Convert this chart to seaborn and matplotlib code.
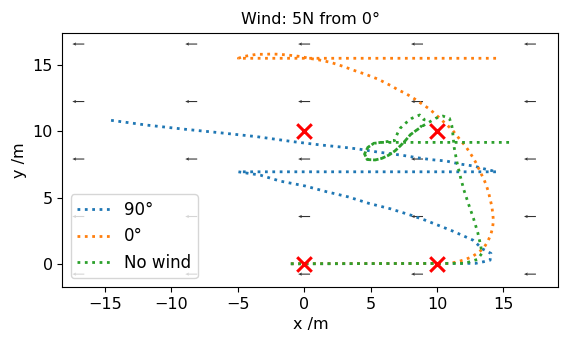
import numpy as np
import matplotlib
matplotlib.use("Agg")
import matplotlib.pyplot as plt
import seaborn as sns

# Traiettorie
blue_x = [-1, 12.9, 13.5, 14.0, 14.06, 13.45, 12.7, 11.2, 10.2, 9.1, 8.1, 6.5, 4.9, 3.3, 1.7, 0.1,
          -1.8, -3.3, -4.95, 14.5, 13.95, 13.4, 12.8, 11.75, 10.7, 9.6, 8.5, 7.4, 5.5, 4.1, 3.0,
          1.3, -0.8, -3.56, -6.4, -9.1, -11.85, -14.7]
blue_y = [0.05, 0.08, 0.2, 0.32, 0.83, 1.15, 1.83, 2.5, 2.9, 3.33, 3.68, 4.18, 4.58, 5.08, 5.46, 5.89,
          6.26, 6.71, 6.96, 6.96, 7.09, 7.22, 7.39, 7.54, 7.77, 7.87, 8.02, 8.2, 8.45, 8.67, 8.8,
          8.97, 9.22, 9.6, 9.9, 10.17, 10.47, 10.85]

orange_x = [-1, 11.0, 11.62, 12.12, 12.63, 13.08, 13.5, 13.8, 14.03, 14.18, 14.25, 14.2, 14.13, 14.0,
            13.88, 13.7, 13.5, 13.25, 13.03, 12.75, 12.45, 12.15, 11.8, 11.45, 11.12, 10.69, 10.29,
            9.86, 9.44, 8.98, 8.53, 8.06, 7.58, 7.1, 6.6, 6.1, 5.6, 5.1, 4.6, 4.04, 3.54, 3.0, 2.46,
            1.96, 1.41, 0.9, 0.33, -0.17, -0.75, -1.3, -1.85, -2.43, -2.98, -3.56, -4.07, -4.62,
            -4.95, 14.6]
orange_y = [0.05, 0.08, 0.22, 0.37, 0.57, 0.87, 1.2, 1.68, 2.18, 2.7, 3.28, 3.83, 4.38, 4.91,
            5.44, 5.99, 6.47, 6.96, 7.47, 7.97, 8.44, 8.89, 9.29, 9.74, 10.15, 10.53, 10.92,
            11.3, 11.68, 11.98, 12.3, 12.6, 12.88, 13.1, 13.4, 13.65, 13.91, 14.1, 14.3, 14.48, 14.66,
            14.86, 15.04, 15.19, 15.31, 15.41, 15.49, 15.61, 15.68, 15.74, 15.79, 15.81, 15.79, 15.79,
            15.71, 15.61, 15.49, 15.49]

green_x = [-1, 12.0, 12.5, 13.05, 13.38, 13.3, 13.07, 12.75, 12.38, 12.03, 11.75, 11.5, 11.3, 11.2,
           11.12, 10.94, 10.44, 9.9, 9.4, 8.95, 8.48, 8.0, 7.6, 7.23, 6.85, 6.35, 5.85, 5.35, 4.75,
           4.55, 4.8, 5.25, 6.0, 6.8, 7.03, 7.23, 7.68, 8.11, 8.7, 9.04, 8.9, 8.48, 8.0, 7.6, 7.23,
           6.85, 6.35, 5.85, 5.35, 4.75, 4.55, 4.8, 5.25, 5.85, 15.77]
green_y = [0.05, 0.08, 0.2, 0.38, 0.83, 1.38, 2.4, 3.46, 4.53, 5.59, 6.64, 7.71, 8.77, 9.77,
           10.42, 10.98, 11.15, 10.98, 10.68, 10.42, 10.1, 9.75, 9.28, 8.9, 8.54, 8.2, 7.97, 7.85, 7.88,
           8.3, 8.8, 9.1, 9.2, 9.3, 9.85, 10.23, 10.65, 10.98, 11.23, 10.9, 10.45, 10.1, 9.75, 9.28, 8.9,
           8.54, 8.2, 7.97, 7.85, 7.88, 8.3, 8.8, 9.1, 9.17, 9.17]

labels = ["90°", "0°", "No wind"]

# Waypoint
wp_x = [0, 10, 0, 10]
wp_y = [0, 0, 10, 10]

# Griglia del vento (5N da 0°)
wind_x = [-17.0, -8.5, 0.0, 8.5, 17.0]
wind_y = [-0.73, 3.6, 7.92, 12.24, 16.56]
wind_u = -5.0
wind_v = 0.0

sns.set_style("ticks", {"axes.edgecolor": "black", "text.color": "black",
                        "xtick.color": "black", "ytick.color": "black",
                        "axes.labelcolor": "black"})
plt.rcParams["font.family"] = ["DejaVu Sans"]
plt.rcParams["font.size"] = 11.5

fig, ax = plt.subplots(figsize=(5.67, 3.41), dpi=100)
fig.subplots_adjust(left=0.11, right=0.985, top=0.904, bottom=0.159)

WX, WY = np.meshgrid(wind_x, wind_y)
ax.quiver(WX, WY, np.full(WX.shape, wind_u), np.full(WX.shape, wind_v),
          pivot="middle", scale_units="xy", scale=5 / 0.9, width=0.0022,
          headwidth=3, headlength=3.5, headaxislength=3, color="k", alpha=0.8, zorder=1)

for xs, ys, lab, col in zip([blue_x, orange_x, green_x], [blue_y, orange_y, green_y], labels,
                            ["tab:blue", "tab:orange", "tab:green"]):
    sns.lineplot(x=xs, y=ys, sort=False, estimator=None, ax=ax, color=col,
                 linestyle=":", linewidth=2, label=lab, zorder=2)

sns.scatterplot(x=wp_x, y=wp_y, marker="x", s=110, color="red", linewidth=2.2, ax=ax, zorder=5)

ax.set_xlim(-18.2, 19.15)
ax.set_ylim(-1.68, 17.41)
ax.set_xticks([-15, -10, -5, 0, 5, 10, 15])
ax.set_yticks([0, 5, 10, 15])
ax.tick_params(labelsize=11.5, length=3.5, width=0.8)
ax.set_xlabel("x /m", fontsize=11.5)
ax.set_ylabel("y /m", fontsize=11.5)
ax.set_title("Wind: 5N from 0°", fontsize=11.5)
ax.legend(loc="lower left", fontsize=12)

fig.savefig("out.png", dpi=100)
